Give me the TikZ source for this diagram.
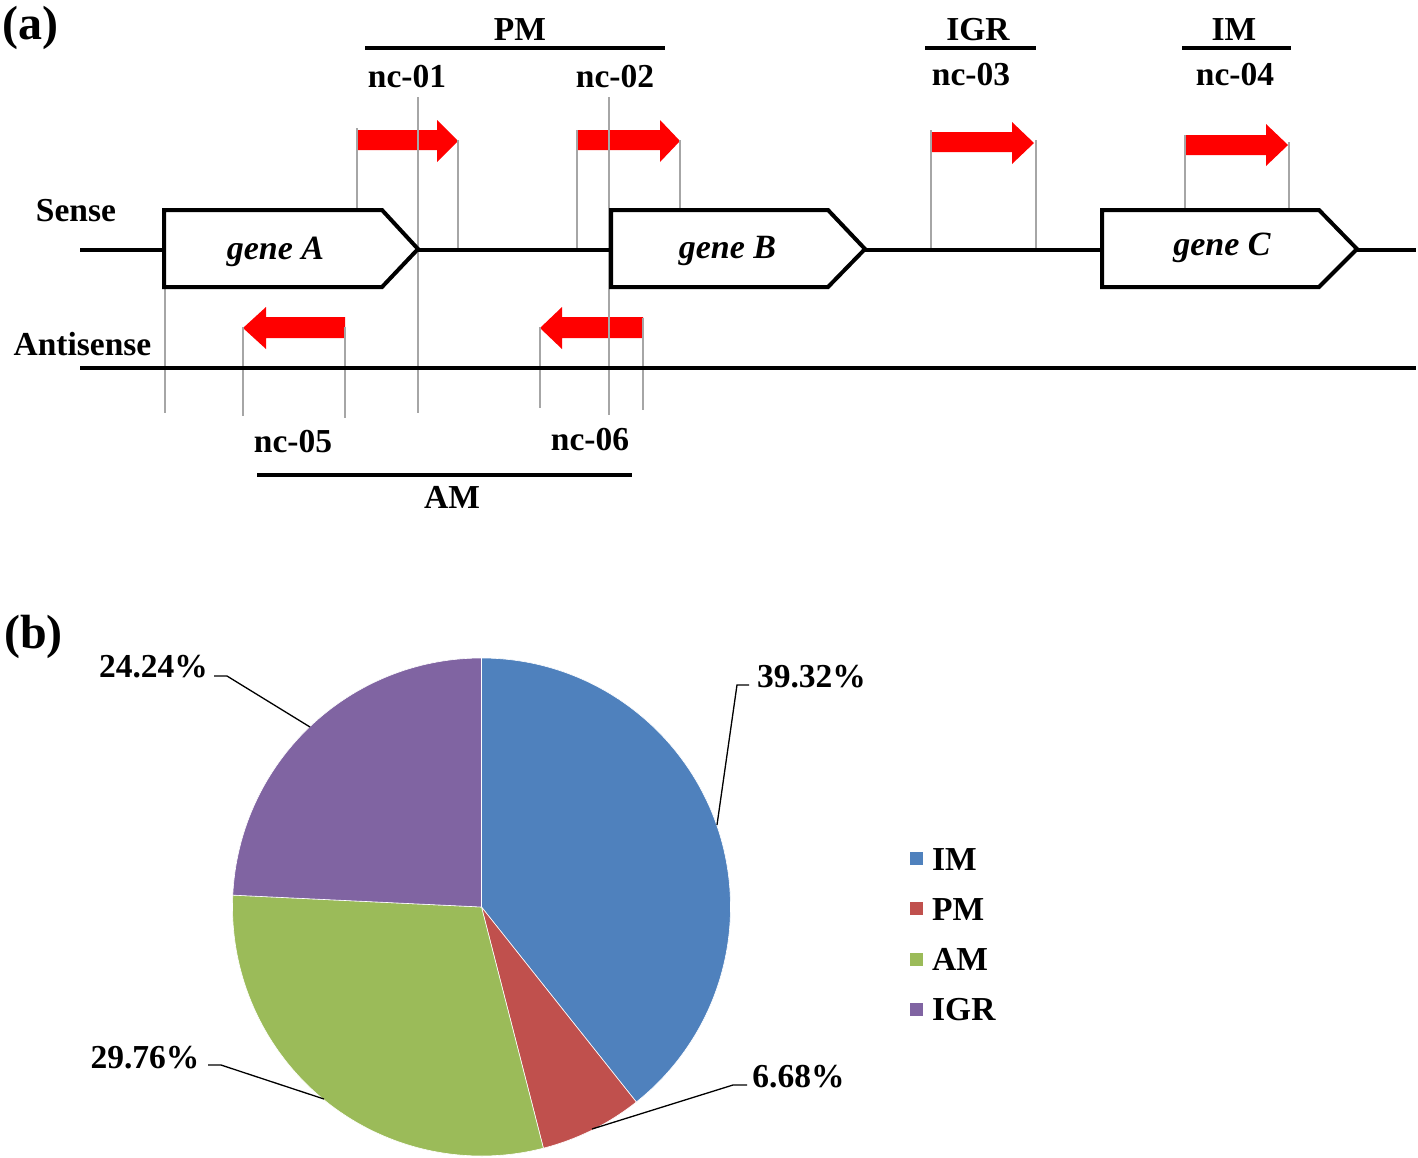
\documentclass[tikz,border=0pt]{standalone}
\usepackage{fontspec}
\setmainfont{Liberation Serif}
\definecolor{imc}{HTML}{4F81BD}
\definecolor{pmc}{HTML}{C0504D}
\definecolor{amc}{HTML}{9BBB59}
\definecolor{igrc}{HTML}{8064A2}
\begin{document}
\begin{tikzpicture}[x=1pt,y=-1pt,
  lbl/.style={inner sep=0pt, font=\fontsize{33.5}{36}\selectfont\bfseries, anchor=base},
  lbll/.style={lbl, anchor=base west},
  panel/.style={inner sep=0pt, font=\fontsize{48}{52}\selectfont\bfseries, anchor=base west},
  genelbl/.style={inner sep=0pt, font=\fontsize{34}{36}\selectfont\bfseries\itshape, anchor=base},
  strand/.style={line width=3.6pt},
  genebox/.style={draw=black, fill=white, line width=4pt, line join=miter},
  guide/.style={draw=gray!70, line width=2pt},
  ncarrow/.style={fill=red},
  bar/.style={line width=4pt},
  leader/.style={line width=1.3pt},
  slice/.style={draw=white, line width=0.6pt}
]
\useasboundingbox (0,0) rectangle (1418,1157);

% ---------------- panel (a) ----------------
\node[panel] (pa) at (2,39) {(a)};

% category bars and labels
\node[lbl] (PMt) at (520,40) {PM};
\node[lbl] (IGRt) at (978,40) {IGR};
\node[lbl] (IMt) at (1234,40) {IM};
\draw[bar] (365,48) -- (665,48);
\draw[bar] (925,48) -- (1036,48);
\draw[bar] (1182,48) -- (1291,48);

\node[lbl] (nc01) at (407,87) {nc-01};
\node[lbl] (nc02) at (615,87) {nc-02};
\node[lbl] (nc03) at (971,85) {nc-03};
\node[lbl] (nc04) at (1235,85) {nc-04};

\node[lbl] (sense) at (76,221) {Sense};
\node[lbl] (antisense) at (82.5,355) {Antisense};

\node[lbl] (nc05) at (293,452) {nc-05};
\node[lbl] (nc06) at (590,450) {nc-06};
\draw[bar] (257,475) -- (632,475);
\node[lbl] (AMt) at (452,508) {AM};

% red ncRNA arrows (sense)
\fill[ncarrow] (357,130) -- (437,130) -- (437,120) -- (458,141) -- (437,162) -- (437,150) -- (357,150) -- cycle;
\fill[ncarrow] (577,130) -- (660,130) -- (660,120) -- (680,141) -- (660,162) -- (660,150) -- (577,150) -- cycle;
\fill[ncarrow] (931,132) -- (1012,132) -- (1012,122) -- (1034,143) -- (1012,164) -- (1012,152) -- (931,152) -- cycle;
\fill[ncarrow] (1185,135) -- (1266,135) -- (1266,124) -- (1288,145) -- (1266,166) -- (1266,155) -- (1185,155) -- cycle;
% red ncRNA arrows (antisense)
\fill[ncarrow] (345,317) -- (266,317) -- (266,307) -- (243,328) -- (266,349) -- (266,338) -- (345,338) -- cycle;
\fill[ncarrow] (643,317) -- (562,317) -- (562,307) -- (540,328) -- (562,349) -- (562,338) -- (643,338) -- cycle;

% gray guide lines
\draw[guide] (357,128) -- (357,210);
\draw[guide] (458,140) -- (458,250);
\draw[guide] (418,97) -- (418,413);
\draw[guide] (577,130) -- (577,250);
\draw[guide] (680,140) -- (680,210);
\draw[guide] (609,97) -- (609,415);
\draw[guide] (931,130) -- (931,250);
\draw[guide] (1036,140) -- (1036,250);
\draw[guide] (1185,135) -- (1185,210);
\draw[guide] (1289,142) -- (1289,210);
\draw[guide] (165,287) -- (165,413);
\draw[guide] (243,327) -- (243,416);
\draw[guide] (345,327) -- (345,418);
\draw[guide] (540,327) -- (540,408);
\draw[guide] (643,318) -- (643,410);

% strands
\draw[strand] (80,250) -- (1416,250);
\draw[strand] (80,368) -- (1416,368);

% genes
\path[genebox] (164,210) -- (382,210) -- (418,249) -- (382,287) -- (164,287) -- cycle;
\path[genebox] (611,210) -- (828,210) -- (865,249) -- (828,287) -- (611,287) -- cycle;
\path[genebox] (1102,210) -- (1319,210) -- (1357,249) -- (1319,287) -- (1102,287) -- cycle;
\node[genelbl] (geneA) at (275.5,259) {gene A};
\node[genelbl] (geneB) at (727.5,258) {gene B};
\node[genelbl] (geneC) at (1222,255) {gene C};

% ---------------- panel (b) ----------------
\node[panel] (pb) at (4,648) {(b)};

\coordinate (C) at (481.5,907);
\filldraw[slice, fill=imc] (C) -- +(-90:249) arc[start angle=-90, end angle=51.552, radius=249] -- cycle;
\filldraw[slice, fill=pmc] (C) -- +(51.552:249) arc[start angle=51.552, end angle=75.6, radius=249] -- cycle;
\filldraw[slice, fill=amc] (C) -- +(75.6:249) arc[start angle=75.6, end angle=182.736, radius=249] -- cycle;
\filldraw[slice, fill=igrc] (C) -- +(182.736:249) arc[start angle=182.736, end angle=270, radius=249] -- cycle;

% percentage labels and leaders
\node[lbl] (l39) at (811.5,687) {39.32\%};
\node[lbl] (l6) at (798.5,1087) {6.68\%};
\node[lbl] (l24) at (153.5,677) {24.24\%};
\node[lbl] (l29) at (145,1068) {29.76\%};

\coordinate (m39) at (717,825);
\coordinate (m6) at (592,1129);
\coordinate (m24) at (310,727);
\coordinate (m29) at (324,1099);
\draw[leader] (749,685) -- (737,685) -- (m39);
\draw[leader] (747,1085) -- (733,1085) -- (m6);
\draw[leader] (214,676) -- (227,676) -- (m24);
\draw[leader] (208,1065) -- (221,1065) -- (m29);

% legend
\fill[imc] (910,852) rectangle (923,865);
\fill[pmc] (910,902) rectangle (923,915);
\fill[amc] (910,953) rectangle (923,966);
\fill[igrc] (910,1003) rectangle (923,1016);
\node[lbll] (legIM) at (932,870) {IM};
\node[lbll] (legPM) at (932,920) {PM};
\node[lbll] (legAM) at (932,970) {AM};
\node[lbll] (legIGR) at (932,1020) {IGR};
\end{tikzpicture}
\end{document}
